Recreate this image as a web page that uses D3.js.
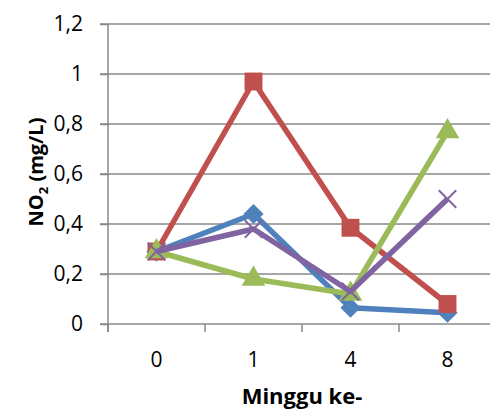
<!DOCTYPE html>
<html>
<head>
<meta charset="utf-8">
<script src="https://cdn.jsdelivr.net/npm/d3@7"></script>
<style>
  body { margin: 0; background: #fff; }
  text { font-family: "Open Sans", "Liberation Sans", sans-serif; }
</style>
</head>
<body>
<div id="chart"></div>
<script>
var svgWidth = 490;
var svgHeight = 412;

// data
var weeks = ["0", "1", "4", "8"];
var seriesBlue = [0.29, 0.44, 0.065, 0.045];
var seriesRed = [0.29, 0.97, 0.385, 0.08];
var seriesGreen = [0.29, 0.18, 0.12, 0.77];
var seriesPurple = [0.29, 0.38, 0.13, 0.50];
var yTicks = [0, 0.2, 0.4, 0.6, 0.8, 1, 1.2];

var series = [
  { values: seriesBlue, color: "#4F81BD", marker: "diamond" },
  { values: seriesRed, color: "#C0504D", marker: "square" },
  { values: seriesGreen, color: "#9BBB59", marker: "triangle" },
  { values: seriesPurple, color: "#8064A2", marker: "x" }
];

var margin = { top: 24, right: 0, bottom: 88, left: 108 };
var height = svgHeight - margin.top - margin.bottom;

var svg = d3.select("#chart")
  .append("svg")
  .attr("width", svgWidth)
  .attr("height", svgHeight);

var chartGroup = svg.append("g")
  .attr("transform", `translate(${margin.left}, ${margin.top})`);

var xScale = d3.scaleBand()
  .domain(weeks)
  .range([0, 97 * 4]);

var yScale = d3.scaleLinear()
  .domain([0, 1.2])
  .range([height, 0]);

// gridlines
chartGroup.selectAll(".grid")
  .data(yTicks)
  .enter()
  .append("line")
  .attr("x1", -8)
  .attr("x2", svgWidth)
  .attr("y1", d => yScale(d))
  .attr("y2", d => yScale(d))
  .attr("stroke", "#888")
  .attr("stroke-width", 1.5);

// y axis
var leftAxis = d3.axisLeft(yScale)
  .tickValues(yTicks)
  .tickSize(8)
  .tickFormat(d => String(d).replace(".", ","));

var yAxis = chartGroup.append("g").call(leftAxis);
yAxis.select(".domain").remove();
yAxis.selectAll(".tick line").attr("stroke", "#888").attr("stroke-width", 1.5);
yAxis.selectAll("text")
  .attr("x", -25)
  .attr("font-size", "21px")
  .attr("fill", "#000")
  .style("font-family", "'Open Sans', sans-serif");

chartGroup.append("line")
  .attr("x1", 0).attr("x2", 0)
  .attr("y1", 0).attr("y2", height + 8)
  .attr("stroke", "#888")
  .attr("stroke-width", 1.5);

// x axis
var bottomAxis = d3.axisBottom(xScale).tickSize(0).tickPadding(28);
var xAxis = chartGroup.append("g")
  .attr("transform", `translate(0, ${height})`)
  .call(bottomAxis);
xAxis.select(".domain").remove();
xAxis.selectAll("text")
  .attr("font-size", "21px")
  .attr("fill", "#000")
  .style("font-family", "'Open Sans', sans-serif");

chartGroup.selectAll(".xtick")
  .data(weeks)
  .enter()
  .append("line")
  .attr("x1", d => xScale(d))
  .attr("x2", d => xScale(d))
  .attr("y1", height)
  .attr("y2", height + 8)
  .attr("stroke", "#888")
  .attr("stroke-width", 1.5);

// lines + markers
var line = d3.line()
  .x((d, i) => xScale(weeks[i]) + xScale.bandwidth() / 2)
  .y(d => yScale(d));

var symbols = {
  diamond: d3.symbol().type(d3.symbolDiamond2).size(260),
  square: d3.symbol().type(d3.symbolSquare).size(320),
  triangle: d3.symbol().type(d3.symbolTriangle).size(240),
  x: d3.symbol().type(d3.symbolX).size(200)
};

series.forEach(function(s) {
  chartGroup.append("path")
    .datum(s.values)
    .attr("d", line)
    .attr("fill", "none")
    .attr("stroke", s.color)
    .attr("stroke-width", 5.5)
    .attr("stroke-linejoin", "round");

  var marks = chartGroup.selectAll(null)
    .data(s.values)
    .enter()
    .append("path")
    .attr("transform", (d, i) => `translate(${xScale(weeks[i]) + xScale.bandwidth() / 2}, ${yScale(d)})`)
    .attr("d", symbols[s.marker]);

  if (s.marker === "x") {
    marks.attr("fill", "none").attr("stroke", s.color).attr("stroke-width", 2);
  } else {
    marks.attr("fill", s.color);
  }
});

// axis titles
svg.append("text")
  .attr("transform", "translate(43, 172) rotate(-90)")
  .attr("text-anchor", "middle")
  .attr("font-size", "20px")
  .attr("font-weight", "bold")
  .html('NO<tspan font-size="13px" dy="5">2</tspan><tspan dy="-5"> (mg/L)</tspan>');

svg.append("text")
  .attr("x", 302)
  .attr("y", 404)
  .attr("text-anchor", "middle")
  .attr("font-size", "22px")
  .attr("font-weight", "bold")
  .text("Minggu ke-");
</script>
</body>
</html>
